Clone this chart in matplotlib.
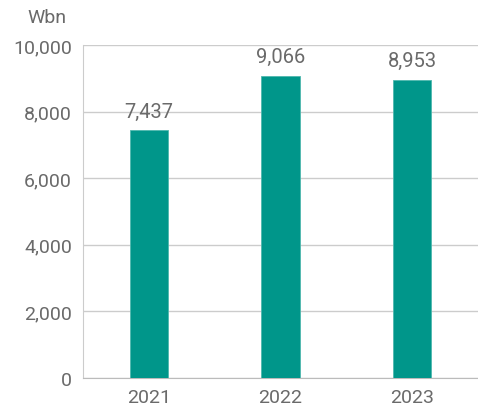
import matplotlib.pyplot as plt
import numpy as np

years = ["2021", "2022", "2023"]
values = [7437, 9066, 8953]
y_ticks = [0, 2000, 4000, 6000, 8000, 10000]

bar_color = "#00968a"
text_color = "#6a6a6a"
grid_color = "#cccccc"

plt.rcParams['font.family'] = ['Roboto', 'DejaVu Sans']

fig = plt.figure(figsize=(4.78, 4.10), dpi=100)
ax = fig.add_axes([83 / 478, 1 - 379 / 410, (478 - 83) / 478, (379 - 46) / 410])

x = np.arange(len(years))
bars = ax.bar(x, values, width=0.29, color=bar_color, edgecolor="#4fb8ae", linewidth=0.6, zorder=3)

for xi, v in zip(x, values):
    ax.annotate(f"{v:,}", (xi, v), xytext=(0, 7), textcoords="offset points",
                ha="center", va="bottom", fontsize=14.5, color=text_color)

ax.set_xlim(-0.5, len(years) - 0.5)
ax.set_ylim(0, 10000)
ax.set_xticks(x)
ax.set_xticklabels(years)
ax.set_yticks(y_ticks)
ax.set_yticklabels([f"{t:,}" for t in y_ticks])
ax.tick_params(axis="both", length=0, labelsize=14, colors=text_color)
ax.tick_params(axis="y", pad=8)
ax.tick_params(axis="x", pad=7.5)

ax.grid(axis="y", color=grid_color, linewidth=1, zorder=0)
for side in ["top", "right"]:
    ax.spines[side].set_visible(False)
ax.spines["left"].set_color(grid_color)
ax.spines["bottom"].set_color("#bbbbbb")

fig.text(27 / 478, 1 - 18 / 410, "Wbn", fontsize=14, color=text_color, va="center", ha="left")

fig.savefig("out.png", dpi=100)
